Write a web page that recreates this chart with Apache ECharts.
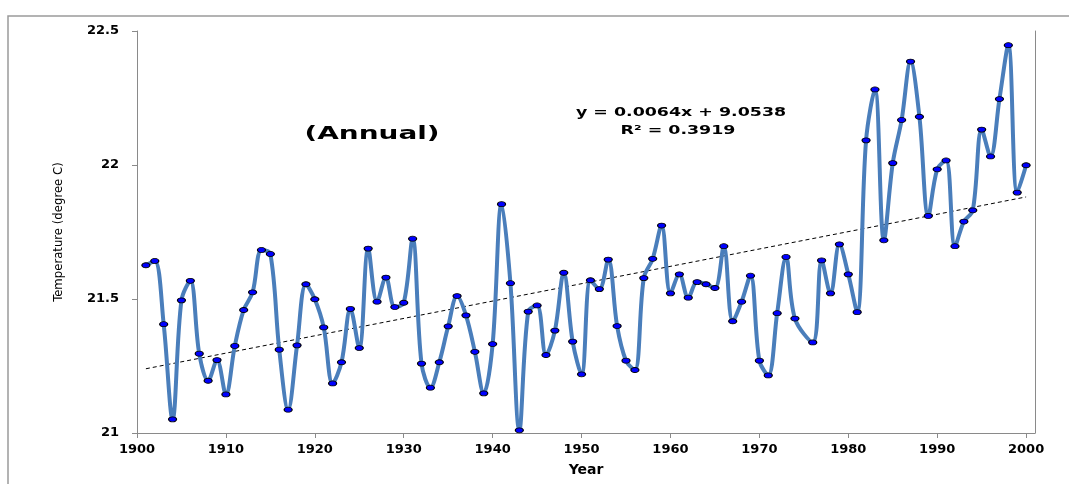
<!DOCTYPE html>
<html>
<head>
<meta charset="utf-8">
<script src="https://cdn.jsdelivr.net/npm/echarts@6/dist/echarts.min.js"></script>
<style>
html,body{margin:0;padding:0;background:#fff;}
#chart{width:1069px;height:484px;}
</style>
</head>
<body>
<div id="chart"></div>
<script>
var years = [];
for (var yr = 1901; yr <= 2000; yr++) years.push(yr);

var temps = [
  21.626, 21.642, 21.406, 21.051, 21.495, 21.568, 21.296, 21.195, 21.272, 21.144,
  21.325, 21.459, 21.525, 21.683, 21.668, 21.311, 21.087, 21.327, 21.555, 21.499,
  21.394, 21.185, 21.264, 21.463, 21.317, 21.688, 21.490, 21.580, 21.470, 21.486,
  21.725, 21.259, 21.169, 21.264, 21.398, 21.511, 21.439, 21.303, 21.148, 21.332,
  21.854, 21.559, 21.010, 21.453, 21.476, 21.291, 21.382, 21.598, 21.341, 21.219,
  21.570, 21.537, 21.647, 21.399, 21.270, 21.235, 21.578, 21.650, 21.774, 21.521,
  21.592, 21.505, 21.563, 21.555, 21.541, 21.697, 21.417, 21.490, 21.587, 21.270,
  21.215, 21.447, 21.657, 21.427, null,   21.338, 21.644, 21.521, 21.704, 21.592,
  21.451, 22.092, 22.282, 21.719, 22.007, 22.168, 22.386, 22.180, 21.810, 21.984,
  22.017, 21.697, 21.789, 21.831, 22.132, 22.032, 22.246, 22.447, 21.897, 21.999
];

var yTicks = [21, 21.5, 22, 22.5];
var xTicks = [1900, 1910, 1920, 1930, 1940, 1950, 1960, 1970, 1980, 1990, 2000];
var titleText = '(Annual)';
var equationText = 'y = 0.0064x + 9.0538';
var r2Text = 'R\u00B2 = 0.3919';

// least-squares trend from the data
var n = 0, sx = 0, sy = 0, sxx = 0, sxy = 0;
for (var i = 0; i < years.length; i++) {
  if (temps[i] === null) continue;
  n++; sx += years[i]; sy += temps[i]; sxx += years[i] * years[i]; sxy += years[i] * temps[i];
}
var slope = (n * sxy - sx * sy) / (n * sxx - sx * sx);
var intercept = (sy - slope * sx) / n;
var trendData = [
  [years[0], intercept + slope * years[0]],
  [years[years.length - 1], intercept + slope * years[years.length - 1]]
];

var lineData = years.map(function (y, i) { return [y, temps[i]]; });

var chart = echarts.init(document.getElementById('chart'));
var axisGray = '#8a8a8a';
chart.setOption({
  animation: false,
  backgroundColor: '#ffffff',
  grid: { left: 137, right: 34, top: 31, bottom: 51 },
  xAxis: {
    type: 'value',
    min: xTicks[0],
    max: 2001,
    interval: 10,
    name: 'Year',
    nameLocation: 'middle',
    nameGap: 30,
    nameTextStyle: { fontFamily: 'DejaVu Sans', fontWeight: 'bold', fontSize: 14, color: '#000' },
    axisLine: { lineStyle: { color: axisGray, width: 1 } },
    axisTick: { length: 5, lineStyle: { color: axisGray } },
    axisLabel: {
      showMaxLabel: false,
      margin: 10,
      fontFamily: 'DejaVu Sans', fontWeight: 'bold', fontSize: 13, color: '#000',
      formatter: function (v) { return xTicks.indexOf(v) >= 0 ? String(v) : ''; }
    },
    splitLine: { show: false }
  },
  yAxis: [{
    type: 'value',
    min: yTicks[0],
    max: yTicks[yTicks.length - 1],
    interval: 0.5,
    name: 'Temperature (degree C)',
    nameLocation: 'middle',
    nameGap: 72,
    nameTextStyle: { fontFamily: '"Liberation Sans Narrow", "DejaVu Sans Condensed", sans-serif', fontSize: 13, color: '#000' },
    axisLine: { show: true, lineStyle: { color: axisGray, width: 1 } },
    axisTick: { show: true, length: 5, lineStyle: { color: axisGray } },
    axisLabel: { margin: 18, fontFamily: 'DejaVu Sans', fontWeight: 'bold', fontSize: 13, color: '#000' },
    splitLine: { show: false }
  }, {
    type: 'value',
    position: 'right',
    min: yTicks[0],
    max: yTicks[yTicks.length - 1],
    interval: 0.5,
    axisLine: { show: true, lineStyle: { color: axisGray, width: 1 } },
    axisTick: { show: false },
    axisLabel: { show: false },
    splitLine: { show: false }
  }],
  series: [{
    type: 'line',
    data: trendData,
    symbol: 'none',
    silent: true,
    z: 1,
    lineStyle: { color: '#000', width: 1, type: [4, 3] }
  }, {
    type: 'line',
    data: lineData,
    smooth: 0.35,
    connectNulls: true,
    z: 3,
    lineStyle: { color: '#4A7EBB', width: 4 },
    symbol: 'circle',
    symbolSize: [8, 5],
    itemStyle: { color: '#0000FF', borderColor: '#000', borderWidth: 1 }
  }],
  graphic: [{
    type: 'rect',
    shape: { x: 8, y: 16, width: 1100, height: 500 },
    style: { fill: 'none', stroke: '#9a9a9a', lineWidth: 1.5 },
    silent: true, z: 0
  }, {
    type: 'text',
    x: 372, y: 134, scaleX: 1.55,
    style: { text: titleText, font: 'bold 18px "DejaVu Sans"', fill: '#000', textAlign: 'center', textVerticalAlign: 'middle' }
  }, {
    type: 'text',
    x: 681, y: 113, scaleX: 1.45,
    style: { text: equationText, font: 'bold 12px "DejaVu Sans"', fill: '#000', textAlign: 'center', textVerticalAlign: 'middle' }
  }, {
    type: 'text',
    x: 678, y: 131, scaleX: 1.45,
    style: { text: r2Text, font: 'bold 12px "DejaVu Sans"', fill: '#000', textAlign: 'center', textVerticalAlign: 'middle' }
  }]
});
</script>
</body>
</html>
